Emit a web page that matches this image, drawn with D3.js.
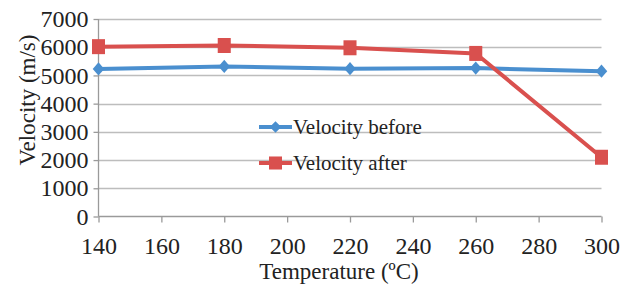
<!doctype html>
<html>
<head>
<meta charset="utf-8"/>
<title>Velocity vs temperature</title>
<script src="https://d3js.org/d3.v7.min.js"></script>
<style>
body { margin: 0; background: #fff; }
</style>
</head>
<body>
<svg id="chart"></svg>
<script>
// data
const temps = [140, 180, 220, 260, 300];
const velocity_before = [5230, 5320, 5240, 5260, 5150];
const velocity_after = [6020, 6060, 5980, 5780, 2100];
const x_ticks = [140, 160, 180, 200, 220, 240, 260, 280, 300];
const y_ticks = [0, 1000, 2000, 3000, 4000, 5000, 6000, 7000];

const width = 627, height = 288;
const plot_left = 98.5, plot_right = 601.5, plot_top = 19, plot_bottom = 216.5;
const blue = '#4a8fcf', red = '#d9504e';
const serif = '"Liberation Serif", "Times New Roman", serif';

const svg = d3.select('#chart')
    .attr('width', width)
    .attr('height', height)
    .attr('font-family', serif);

const x = d3.scaleLinear().domain([140, 300]).range([plot_left, plot_right]);
const y = d3.scaleLinear().domain([0, 7000]).range([plot_bottom, plot_top]);

// horizontal gridlines
svg.append('g')
    .selectAll('line')
    .data(y_ticks.slice(1))
    .join('line')
    .attr('x1', plot_left).attr('x2', plot_right)
    .attr('y1', d => Math.round(y(d)) + 0.5)
    .attr('y2', d => Math.round(y(d)) + 0.5)
    .style('stroke', '#bdbdbd')
    .style('stroke-width', 1.3);

function style_axis(g) {
    g.attr('font-family', serif).attr('font-size', 24);
    g.selectAll('line, path').style('stroke', '#9a9a9a').style('stroke-width', 1.3);
    g.selectAll('text').attr('fill', '#222');
}

// y axis
const yAxis = svg.append('g')
    .attr('transform', `translate(${plot_left},0)`)
    .call(d3.axisLeft(y).tickValues(y_ticks).tickFormat(d3.format('d')).tickSize(5).tickPadding(5));
yAxis.call(style_axis);
yAxis.select('.domain').attr('d', `M0,${plot_bottom}V${plot_top}`);

// x axis
const xAxis = svg.append('g')
    .attr('transform', `translate(0,${plot_bottom})`)
    .call(d3.axisBottom(x).tickValues(x_ticks).tickFormat(d3.format('d')).tickSize(6).tickPadding(14));
xAxis.call(style_axis);
xAxis.select('.domain').attr('d', `M${plot_left},0H${plot_right}`);

// axis titles
svg.append('text')
    .attr('x', 339).attr('y', 279)
    .attr('text-anchor', 'middle')
    .attr('font-size', 23)
    .attr('fill', '#222')
    .text('Temperature (ºC)');

svg.append('text')
    .attr('transform', 'translate(35,100) rotate(-90)')
    .attr('text-anchor', 'middle')
    .attr('font-size', 23)
    .attr('fill', '#222')
    .text('Velocity (m/s)');

const line = d3.line().x(d => x(d[0])).y(d => y(d[1]));
const diamond = d3.symbol().type(d3.symbolDiamond2 || d3.symbolDiamond).size(85);
const square = d3.symbol().type(d3.symbolSquare).size(170);

function draw_series(values, color, shape) {
    const pts = temps.map((t, i) => [t, values[i]]);
    svg.append('path')
        .datum(pts)
        .attr('d', line)
        .style('fill', 'none')
        .style('stroke', color)
        .style('stroke-width', 4)
        .style('stroke-linejoin', 'round');
    svg.append('g')
        .selectAll('path')
        .data(pts)
        .join('path')
        .attr('d', shape)
        .attr('transform', d => `translate(${x(d[0])},${y(d[1])}) scale(1,1.15)`)
        .style('fill', color);
}

draw_series(velocity_before, blue, diamond);
draw_series(velocity_after, red, square);

// legend
const legend = [
    {name: 'Velocity before', color: blue, shape: diamond, ly: 127},
    {name: 'Velocity after', color: red, shape: square, ly: 163}
];
legend.forEach(d => {
    svg.append('line')
        .attr('x1', 259).attr('x2', 292)
        .attr('y1', d.ly).attr('y2', d.ly)
        .style('stroke', d.color)
        .style('stroke-width', 4);
    svg.append('path')
        .attr('d', d.shape)
        .attr('transform', `translate(275.5,${d.ly})`)
        .style('fill', d.color);
    svg.append('text')
        .attr('x', 293).attr('y', d.ly + 7)
        .attr('font-size', 21)
        .attr('fill', '#222')
        .text(d.name);
});
</script>
</body>
</html>
